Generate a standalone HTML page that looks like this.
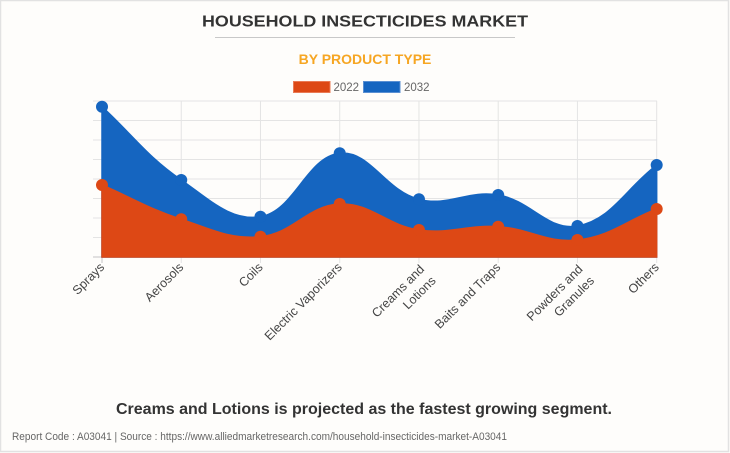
<!DOCTYPE html>
<html>
<head>
<meta charset="utf-8">
<style>
  html,body{margin:0;padding:0;background:#fefdfb;}
  body{width:730px;height:453px;overflow:hidden;}
  svg{display:block;}
  text{font-family:"Liberation Sans", Arial, sans-serif;}
</style>
</head>
<body>
<svg width="730" height="453" viewBox="0 0 730 453" xmlns="http://www.w3.org/2000/svg">
  <rect x="0" y="0" width="730" height="453" fill="#fefdfb"/>
  <rect x="0.5" y="0.5" width="728" height="451" fill="none" stroke="#e2e2e2" stroke-width="1.5"/>

  <!-- Title -->
  <text x="365" y="26.5" text-anchor="middle" font-size="16" font-weight="bold" fill="#333" textLength="326" lengthAdjust="spacingAndGlyphs">HOUSEHOLD INSECTICIDES MARKET</text>
  <line x1="215" y1="37.5" x2="515" y2="37.5" stroke="#c8c8c8" stroke-width="1"/>
  <text x="365" y="64" text-anchor="middle" font-size="14" font-weight="bold" fill="#f6a623">BY PRODUCT TYPE</text>

  <!-- Legend -->
  <rect x="293.5" y="81.5" width="36.5" height="11" fill="#dd4815" stroke="#e97a55" stroke-width="1"/>
  <text x="333.5" y="91" font-size="11.5" fill="#666">2022</text>
  <rect x="363.5" y="81.5" width="36.5" height="11" fill="#1565c0" stroke="#5a8fd2" stroke-width="1"/>
  <text x="404" y="91" font-size="11.5" fill="#666">2032</text>

  <!-- Grid -->
  <g stroke="#e4e4e4" stroke-width="1">
    <line x1="93" y1="101" x2="657" y2="101"/>
    <line x1="93" y1="120.5" x2="657" y2="120.5"/>
    <line x1="93" y1="140" x2="657" y2="140"/>
    <line x1="93" y1="159.5" x2="657" y2="159.5"/>
    <line x1="93" y1="179" x2="657" y2="179"/>
    <line x1="93" y1="198.5" x2="657" y2="198.5"/>
    <line x1="93" y1="218" x2="657" y2="218"/>
    <line x1="93" y1="237.5" x2="657" y2="237.5"/>
    <line x1="181.24" y1="101" x2="181.24" y2="263"/>
    <line x1="260.48" y1="101" x2="260.48" y2="263"/>
    <line x1="339.72" y1="101" x2="339.72" y2="263"/>
    <line x1="418.96" y1="101" x2="418.96" y2="263"/>
    <line x1="498.2" y1="101" x2="498.2" y2="263"/>
    <line x1="577.44" y1="101" x2="577.44" y2="263"/>
    <line x1="656.68" y1="101" x2="656.68" y2="263"/>
  </g>
  <g stroke="#c4c4c4" stroke-width="1">
    <line x1="102" y1="101" x2="102" y2="263"/>
    <line x1="93" y1="257" x2="657" y2="257"/>
  </g>

  <!-- 2032 area -->
  <path d="M102,106.7 C133.7,136.0 146.2,155.7 181.24,180 C209.6,199.7 231.2,221.6 260.48,216.7 C294.6,211.0 306.4,157.0 339.72,153.3 C369.8,150.0 385.0,190.4 418.96,199.3 C448.4,207.0 467.6,189.8 498.2,195 C531.0,200.5 548.3,231.5 577.44,226 C611.7,219.5 625.0,189.4 656.68,165 L656.68,257 L102,257 Z" fill="#1565c0" stroke="#1565c0" stroke-width="1.5"/>

  <!-- 2022 area -->
  <path d="M102,185 C133.7,198.7 148.6,208.6 181.24,219.3 C212.0,229.3 229.7,239.7 260.48,236.7 C293.1,233.6 307.6,205.4 339.72,204 C371.0,202.7 386.5,225.3 418.96,230 C449.9,234.4 466.7,224.7 498.2,226.7 C530.1,228.7 546.7,243.4 577.44,240 C610.1,236.4 625.0,221.4 656.68,209 L656.68,257 L102,257 Z" fill="#dd4815" stroke="#dd4815" stroke-width="1.5"/>

  <!-- 2032 dots -->
  <g fill="#1565c0">
    <circle cx="102" cy="106.7" r="6"/>
    <circle cx="181.24" cy="180" r="6"/>
    <circle cx="260.48" cy="216.7" r="6"/>
    <circle cx="339.72" cy="153.3" r="6"/>
    <circle cx="418.96" cy="199.3" r="6"/>
    <circle cx="498.2" cy="195" r="6"/>
    <circle cx="577.44" cy="226" r="6"/>
    <circle cx="656.68" cy="165" r="6"/>
  </g>
  <!-- 2022 dots -->
  <g fill="#dd4815">
    <circle cx="102" cy="185" r="6"/>
    <circle cx="181.24" cy="219.3" r="6"/>
    <circle cx="260.48" cy="236.7" r="6"/>
    <circle cx="339.72" cy="204" r="6"/>
    <circle cx="418.96" cy="230" r="6"/>
    <circle cx="498.2" cy="226.7" r="6"/>
    <circle cx="577.44" cy="240" r="6"/>
    <circle cx="656.68" cy="209" r="6"/>
  </g>

  <!-- Category labels -->
  <g font-size="12.5" fill="#444" text-anchor="end">
    <text transform="translate(105,268) rotate(-45)">Sprays</text>
    <text transform="translate(184.2,268) rotate(-45)">Aerosols</text>
    <text transform="translate(263.5,268) rotate(-45)">Coils</text>
    <text transform="translate(342.7,268) rotate(-45)">Electric Vaporizers</text>
    <text transform="translate(425,270) rotate(-45)">Creams and</text>
    <text transform="translate(436.5,281.5) rotate(-45)">Lotions</text>
    <text transform="translate(501.2,268) rotate(-45)">Baits and Traps</text>
    <text transform="translate(583.4,270) rotate(-45)">Powders and</text>
    <text transform="translate(594.9,281.5) rotate(-45)">Granules</text>
    <text transform="translate(659.7,268) rotate(-45)">Others</text>
  </g>

  <!-- Bottom text -->
  <text x="364" y="414" text-anchor="middle" font-size="16" font-weight="bold" fill="#333" textLength="496" lengthAdjust="spacingAndGlyphs">Creams and Lotions is projected as the fastest growing segment.</text>
  <text x="12" y="440" font-size="11" fill="#666" textLength="495" lengthAdjust="spacingAndGlyphs">Report Code : A03041  |  Source : https://www.alliedmarketresearch.com/household-insecticides-market-A03041</text>
</svg>
</body>
</html>
